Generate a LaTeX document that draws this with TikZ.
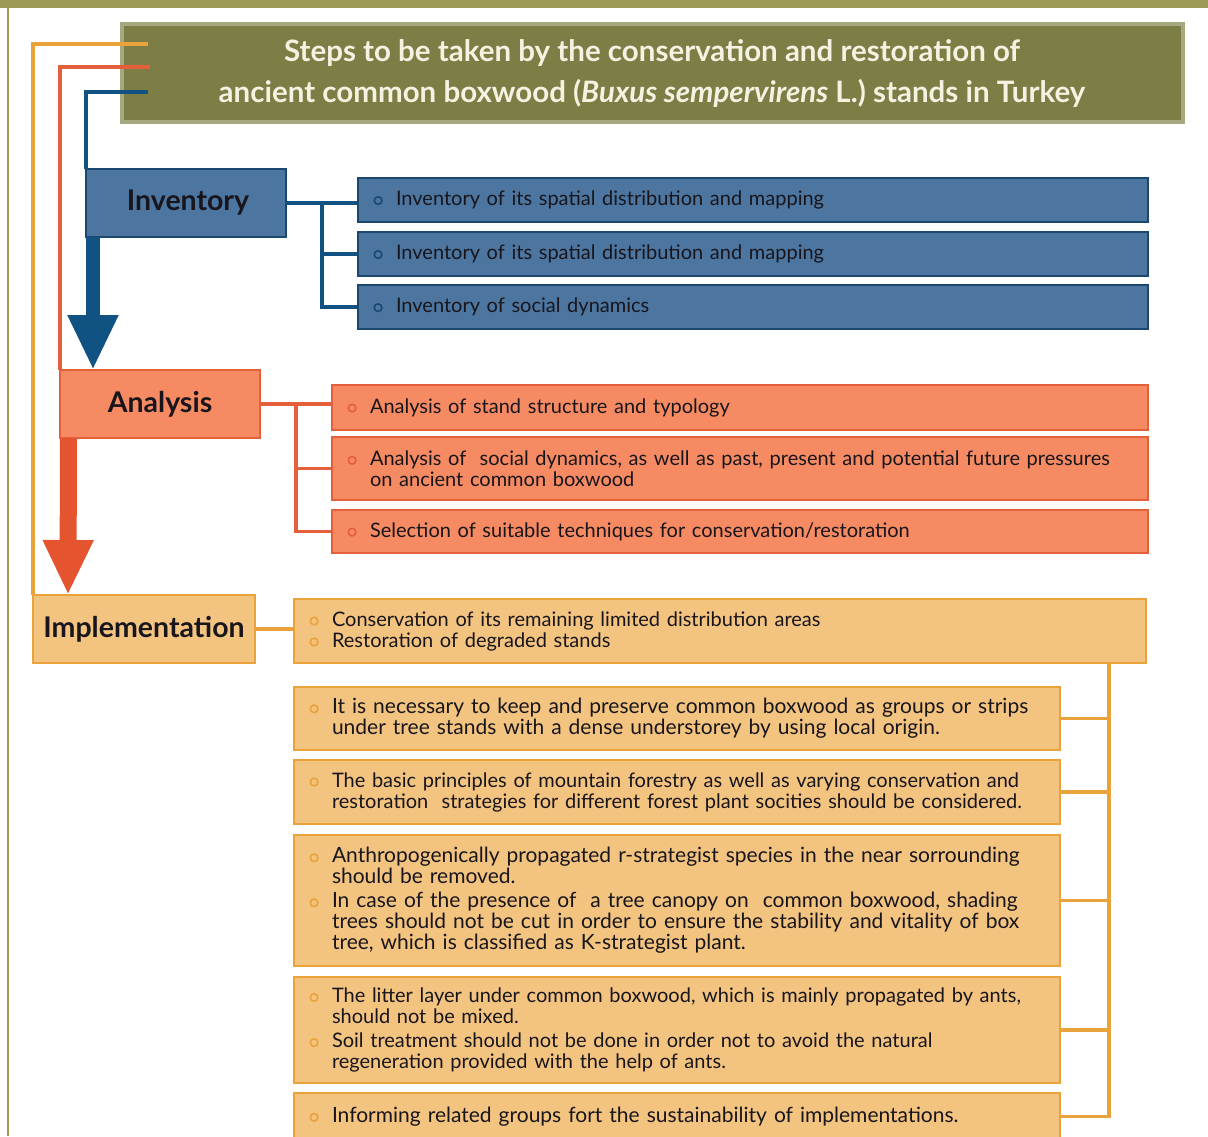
\documentclass[tikz,border=0pt]{standalone}
\usepackage{fontspec}
\setmainfont{Lato}
\usetikzlibrary{arrows.meta,positioning,calc}
\definecolor{band}{RGB}{156,154,86}
\definecolor{olv}{RGB}{124,126,70}
\definecolor{olvl}{RGB}{166,168,128}
\definecolor{ttx}{RGB}{246,242,226}
\definecolor{bc}{RGB}{76,117,160}
\definecolor{bd}{RGB}{26,72,112}
\definecolor{bl}{RGB}{16,82,130}
\definecolor{ac}{RGB}{246,138,98}
\definecolor{ad}{RGB}{228,96,58}
\definecolor{aa}{RGB}{228,84,46}
\definecolor{ic}{RGB}{243,195,128}
\definecolor{id}{RGB}{234,162,58}
\definecolor{tx}{RGB}{24,22,28}
\colorlet{bulc}{id}
\newcommand\itm{\makebox[24pt][l]{\hspace{1.5pt}\tikz[baseline=-5pt]\draw[bulc,line width=1.6pt] (0,0) circle (3.8pt);}}
\newcommand\nxt{\hspace*{24pt}}
\tikzset{main/.style={draw,line width=2.5pt,text=tx,outer sep=0pt,font=\fontsize{28.5}{32}\selectfont\bfseries},
 inv/.style={main,draw=bd,fill=bc,minimum width=200pt,minimum height=68pt},
 ana/.style={main,draw=ad,fill=ac,minimum width=200pt,minimum height=68pt},
 imp/.style={main,draw=id,fill=ic,minimum width=222pt,minimum height=68pt},
 sub/.style={draw,line width=2.5pt,anchor=north west,outer sep=0pt,inner xsep=14pt,align=left,text=tx,
  font=\fontsize{20}{21}\selectfont},
 big/.style={font=\fontsize{21}{21}\selectfont},
 ib/.style={sub,draw=bd,fill=bc,text width=762pt,execute at begin node=\colorlet{bulc}{bd}},
 ab/.style={sub,draw=ad,fill=ac,text width=788pt,execute at begin node=\colorlet{bulc}{ad}},
 mb/.style={sub,draw=id,fill=ic,text width=738pt,execute at begin node=\colorlet{bulc}{id}},
 wb/.style={line width=3.5pt,draw=bl},wa/.style={line width=3.5pt,draw=ad},wo/.style={line width=3.5pt,draw=id},
 barr/.style={-{Triangle[length=55pt,width=47pt]},line width=#1}}

\begin{document}
\begin{tikzpicture}[x=1pt,y=-1pt]
\useasboundingbox (0,0) rectangle (1208,1136);
\clip (0,0) rectangle (1208,1136);
\fill[band] (0,0) rectangle (1208,8);
\draw[band,line width=2pt] (8,8) -- (8,1136);
\node[draw=olvl,fill=olv,line width=4pt,minimum width=1061pt,minimum height=98pt,align=center,text=ttx,
 font=\fontsize{29.5}{41}\selectfont\bfseries] (ttl) at (652,73)
 {Steps to be taken by the conservation and restoration of\\ancient common boxwood (\textit{Buxus sempervirens} L.) stands in Turkey};
\coordinate (to) at (148,44);\coordinate (tr) at (150,67);\coordinate (tb) at (148,92);

\node[inv] (inv) at (186,203) {\hspace{4pt}Inventory};
\node[ana] (ana) at (160,404) {Analysis};
\node[imp] (imp) at (144,629) {Implementation};

\node[ib,minimum height=44pt] (ib1) at (358,178) {\itm Inventory of its spatial distribution and mapping};
\node[ib,minimum height=44pt] (ib2) at (358,232) {\itm Inventory of its spatial distribution and mapping};
\node[ib,minimum height=44pt] (ib3) at (358,285) {\itm Inventory of social dynamics};

\node[ab,minimum height=45pt] (ab1) at (332,385) {\itm Analysis of stand structure and typology};
\node[ab,minimum height=63pt] (ab2) at (332,437) {\itm Analysis of\ \ social dynamics, as well as past, present and potential future pressures\\\nxt on ancient common boxwood};
\node[ab,minimum height=43pt] (ab3) at (332,510) {\itm Selection of suitable techniques for conservation/restoration};

\node[mb,text width=824pt,minimum height=64pt] (m1) at (294,599) {\itm Conservation of its remaining limited distribution areas\\\itm Restoration of degraded stands};
\node[mb,big,minimum height=63pt] (m2) at (294,687) {\itm It is necessary to keep and preserve common boxwood as groups or strips\\\nxt under tree stands with a dense understorey by using local origin.};
\node[mb,minimum height=64pt] (m3) at (294,760) {\itm The basic principles of mountain forestry as well as varying conservation and\\\nxt restoration\ \ strategies for different forest plant socities should be considered.};
\node[mb,big,minimum height=131pt] (m4) at (294,835) {\itm Anthropogenically propagated r-strategist species in the near sorrounding\\\nxt should be removed.\\[3pt]
 \itm In case of the presence of\ \ a tree canopy on\ \ common boxwood, shading\\\nxt trees should not be cut in order to ensure the stability and vitality of box\\\nxt tree, which is classified as K-strategist plant.};
\node[mb,minimum height=106pt] (m5) at (294,977) {\itm The litter layer under common boxwood, which is mainly propagated by ants,\\\nxt should not be mixed.\\[3pt]
 \itm Soil treatment should not be done in order not to avoid the natural\\\nxt regeneration provided with the help of ants.};
\node[mb,big,minimum height=47pt] (m6) at (294,1093) {\itm Informing related groups fort the sustainability of implementations.};

\draw[wo] (to) -| (imp.north west);
\draw[wa] (tr) -| (ana.north west);
\draw[wb] (tb) -| (inv.north west);
\draw[bl,barr=14pt] ([xshift=7pt]inv.south west) -- ([xshift=33pt]ana.north west);
\draw[aa,barr=17pt] ([xshift=8.5pt]ana.south west) -- ([xshift=35pt]imp.north west);

\coordinate (ij) at ($(inv.east)!.5!(inv.east -| ib1.west)$);
\draw[wb] (inv.east) -- (inv.east -| ib1.west) (ij) |- (ib2.west) (ij) |- (ib3.west);
\coordinate (aj) at ($(ana.east)!.5!(ana.east -| ab1.west)$);
\draw[wa] (ana.east) -- (ana.east -| ab1.west) (aj) |- (ab2.west) (aj) |- (ab3.west);
\draw[wo] (imp.east) -- (imp.east -| m1.west);
\coordinate (rb) at ([xshift=49pt]m6.east);
\draw[wo] (rb |- m1.south) -- (rb) -- (m6.east);
\foreach \n in {m2,m3,m4,m5} \draw[wo] (\n.east) -- (\n.east -| rb);
\end{tikzpicture}
\end{document}
